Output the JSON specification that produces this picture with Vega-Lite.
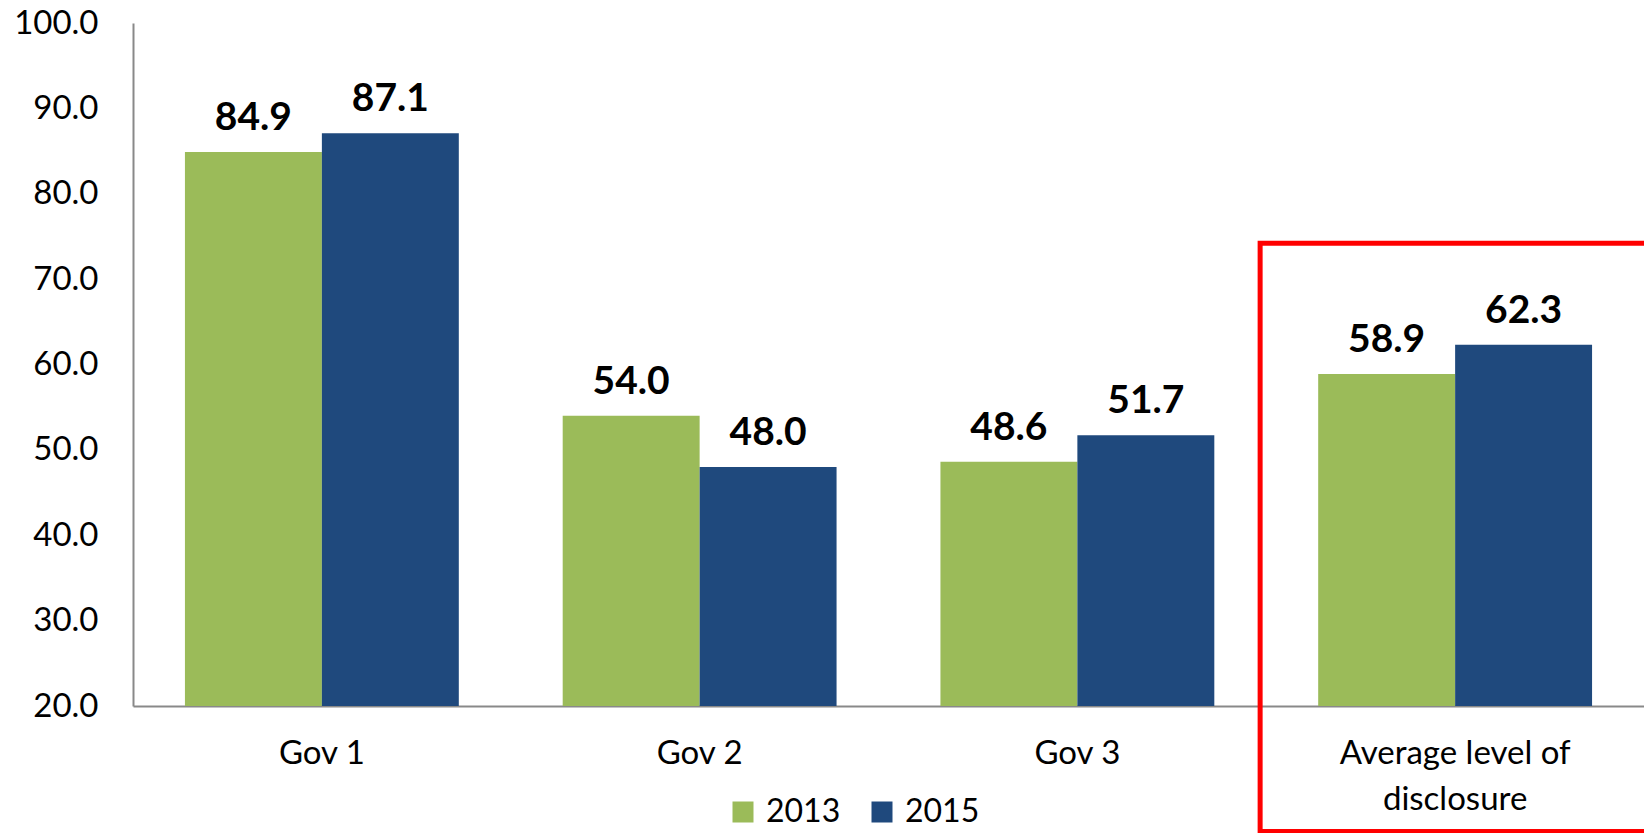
{
  "$schema": "https://vega.github.io/schema/vega-lite/v6.json",
  "width": 1511,
  "height": 683,
  "autosize": {"type": "none"},
  "padding": {"left": 133, "top": 23, "right": 0, "bottom": 127},
  "background": "white",
  "config": {
    "font": "Lato",
    "view": {"stroke": null},
    "axis": {"grid": false, "domainColor": "#898989", "domainWidth": 2, "ticks": false, "labelColor": "#000000", "labelFont": "Lato", "labelFontSize": 33}
  },
  "datasets": {
    "bars": [
      {"cat": "Gov 1", "year": "2013", "value": 84.9},
      {"cat": "Gov 1", "year": "2015", "value": 87.1},
      {"cat": "Gov 2", "year": "2013", "value": 54.0},
      {"cat": "Gov 2", "year": "2015", "value": 48.0},
      {"cat": "Gov 3", "year": "2013", "value": 48.6},
      {"cat": "Gov 3", "year": "2015", "value": 51.7},
      {"cat": "Average level of disclosure", "year": "2013", "value": 58.9},
      {"cat": "Average level of disclosure", "year": "2015", "value": 62.3}
    ],
    "box": [
      {"cat": "Average level of disclosure", "top": 74.2, "bottom": 5.3}
    ]
  },
  "layer": [
    {
      "data": {"name": "bars"},
      "mark": {"type": "bar"},
      "encoding": {
        "x": {
          "field": "cat", "type": "nominal",
          "sort": ["Gov 1", "Gov 2", "Gov 3", "Average level of disclosure"],
          "scale": {"paddingInner": 0.275, "paddingOuter": 0.1375},
          "axis": {
            "title": null, "labelAngle": 0, "labelPadding": 31, "labelLineHeight": 46, "labelLimit": 500,
            "labelExpr": "datum.value == 'Average level of disclosure' ? ['Average level of', 'disclosure'] : datum.value"
          }
        },
        "xOffset": {"field": "year", "type": "nominal", "scale": {"paddingInner": 0, "paddingOuter": 0}},
        "y": {
          "field": "value", "type": "quantitative",
          "scale": {"domain": [20, 100], "nice": false, "zero": false},
          "axis": {"title": null, "values": [20, 30, 40, 50, 60, 70, 80, 90, 100], "format": ".1f", "labelPadding": 35}
        },
        "y2": {"datum": 20},
        "color": {
          "field": "year", "type": "nominal",
          "scale": {"domain": ["2013", "2015"], "range": ["#9BBB59", "#1F497D"]},
          "legend": {
            "title": null, "orient": "none", "direction": "horizontal",
            "legendX": 594, "legendY": 773, "padding": 0,
            "symbolType": "square", "symbolSize": 441, "symbolStrokeWidth": 0,
            "labelFontSize": 32, "labelFont": "Lato", "labelColor": "#000000",
            "labelOffset": 7, "columnPadding": 25
          }
        }
      }
    },
    {
      "data": {"name": "bars"},
      "mark": {"type": "text", "font": "Lato", "fontWeight": "bold", "fontSize": 39, "color": "#000000", "baseline": "alphabetic", "dy": -22},
      "encoding": {
        "x": {"field": "cat", "type": "nominal", "sort": ["Gov 1", "Gov 2", "Gov 3", "Average level of disclosure"]},
        "xOffset": {"field": "year", "type": "nominal"},
        "y": {"field": "value", "type": "quantitative"},
        "text": {"field": "value", "type": "quantitative", "format": ".1f"}
      }
    },
    {
      "data": {"name": "box"},
      "mark": {"type": "rect", "filled": false, "stroke": "#FF0000", "strokeWidth": 5, "width": 390, "clip": false},
      "encoding": {
        "x": {"field": "cat", "type": "nominal", "sort": ["Gov 1", "Gov 2", "Gov 3", "Average level of disclosure"]},
        "y": {"field": "top", "type": "quantitative"},
        "y2": {"field": "bottom"}
      }
    }
  ]
}
